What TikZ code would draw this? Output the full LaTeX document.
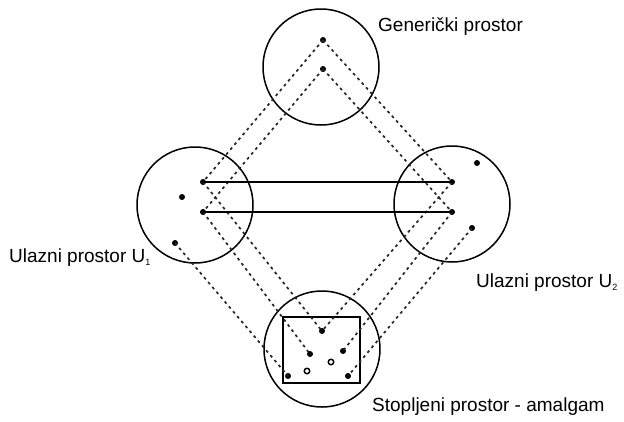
\documentclass[tikz,border=0pt]{standalone}
\usepackage{fontspec}
\setmainfont{Liberation Sans}
\begin{document}
\begin{tikzpicture}[x=1pt,y=-1pt,
  space/.style={circle,draw,line width=1.5pt,minimum size=116pt,inner sep=0pt},
  dot/.style={circle,fill=black,inner sep=0pt,minimum size=6pt},
  hdot/.style={circle,draw=black,fill=white,line width=1.4pt,inner sep=0pt,minimum size=5.5pt},
  dline/.style={line width=1.7pt,dash pattern=on 2.8pt off 3.6pt,black!85},
  sline/.style={line width=2pt},
  lbl/.style={anchor=base west,inner sep=0pt,font=\fontsize{19}{22}\selectfont}]
\useasboundingbox (0,0) rectangle (624,421);
% spaces
\node[space] (G) at (321,67) {};
\node[space] (L) at (195,205) {};
\node[space] (R) at (452,204) {};
\node[space] (B) at (322,349) {};
\node[draw,line width=2.2pt,minimum width=77pt,minimum height=66pt,inner sep=0pt] (box) at (321.5,350) {};
% dots
\node[dot] (g1) at (323,40) {};
\node[dot] (g2) at (323,69) {};
\node[dot] (a1) at (203,182) {};
\node[dot] (a2) at (203,212) {};
\node[dot] (a3) at (182,197) {};
\node[dot] (a4) at (175,243) {};
\node[dot] (b1) at (452,182) {};
\node[dot] (b2) at (452,212) {};
\node[dot] (b3) at (477,163) {};
\node[dot] (b4) at (472,228) {};
\node[dot] (c1) at (322,331) {};
\node[dot] (c2) at (310,354) {};
\node[dot] (c3) at (343,351) {};
\node[hdot] (c4) at (331,362) {};
\node[hdot] (c5) at (307,371) {};
\node[dot] (c6) at (288,376) {};
\node[dot] (c7) at (348,376) {};
% dashed projections
\draw[dline] (g1.center) -- (a1.center);
\draw[dline] (g1.center) -- (b1.center);
\draw[dline] (g2.center) -- (a2.center);
\draw[dline] (g2.center) -- (b2.center);
\draw[dline] (a1.center) -- (c1.center);
\draw[dline] (b1.center) -- (c1.center);
\draw[dline] (a2.center) -- (c2.center);
\draw[dline] (b2.center) -- (c3.center);
\draw[dline] (a4.center) -- (c6.center);
\draw[dline] (b4.center) -- (c7.center);
% solid links
\draw[sline] (a1.center) -- (b1.center);
\draw[sline] (a2.center) -- (b2.center);
% labels
\node[lbl] (tG) at (378,31) {Generički prostor};
\node[lbl] (tL) at (9,262) {Ulazni prostor U\raisebox{-3pt}{\fontsize{9}{9}\selectfont 1}};
\node[lbl] (tR) at (476,287) {Ulazni prostor U\raisebox{-3pt}{\fontsize{9}{9}\selectfont 2}};
\node[lbl] (tB) at (372,411) {Stopljeni prostor - amalgam};
\end{tikzpicture}
\end{document}
